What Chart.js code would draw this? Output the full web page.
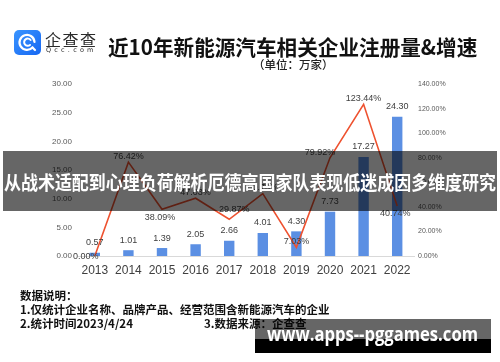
<!DOCTYPE html>
<html>
<head>
<meta charset="utf-8">
<script src="https://cdn.jsdelivr.net/npm/chart.js@4.4.0/dist/chart.umd.min.js"></script>
<style>
  body { margin: 0; background: #fff; }
  #page { position: relative; width: 500px; height: 362px; overflow: hidden; font-family: "Noto Sans CJK SC", sans-serif; }
  #chartBox { position: absolute; left: 0; top: 0; width: 500px; height: 362px; }
  .abs { position: absolute; white-space: nowrap; }
  #brand { left: 45px; top: 29px; font-size: 16px; color: #2b2b2b; letter-spacing: 1.5px; line-height: 20px; }
  #brandSub { left: 46px; top: 46px; font-family: "DejaVu Sans", sans-serif; font-size: 6.5px; color: #333; letter-spacing: 3.2px; line-height: 8px; }
  #title { left: 108px; top: 33px; font-size: 21px; font-weight: bold; color: #111; line-height: 26px; transform-origin: 0 0; }
  #unit { left: 253px; top: 57px; font-size: 11.5px; font-weight: 500; color: #222; line-height: 14px; }
  .note { left: 20px; font-size: 11.5px; font-weight: bold; color: #111; line-height: 14px; }
  #banner { left: 3px; top: 151px; width: 494px; height: 60px; background: rgba(0, 0, 0, 0.6); }
  #bannerText { left: 4px; top: 170px; font-size: 19px; font-weight: bold; color: #fff; line-height: 24px; transform-origin: 0 0; }
  #mark { left: 255px; top: 319px; width: 236px; height: 34px; background: linear-gradient(rgba(0,0,0,0.6) 0, rgba(0,0,0,0.6) 20px, #000 20px, #000 100%); }
  #markText { left: 267px; top: 321px; font-family: "Open Sans", sans-serif; font-size: 20px; font-weight: bold; color: #fff; line-height: 26px; transform-origin: 0 0; }
</style>
</head>
<body>
<div id="page">
  <div id="chartBox"><canvas id="regChart"></canvas></div>

  <svg class="abs" style="left:14px;top:30px" width="27" height="25" viewBox="0 0 27 25">
    <defs>
      <linearGradient id="lg" x1="0" y1="0" x2="1" y2="1">
        <stop offset="0" stop-color="#3a95ff"/>
        <stop offset="1" stop-color="#1667f2"/>
      </linearGradient>
    </defs>
    <rect x="0" y="0" width="27" height="25" rx="5" fill="url(#lg)"/>
    <path d="M18.5 17.5 A7.5 7.5 0 1 1 20.5 12" fill="none" stroke="#fff" stroke-width="2.2" stroke-linecap="round"/>
    <path d="M16 15 A3.6 3.6 0 1 1 16.6 10" fill="none" stroke="#fff" stroke-width="2" stroke-linecap="round"/>
    <path d="M18.5 17.5 L21 20" stroke="#fff" stroke-width="2.2" stroke-linecap="round"/>
  </svg>
  <div id="brand" class="abs">企查查</div>
  <div id="brandSub" class="abs">Qcc.com</div>
  <div id="title" class="abs" data-fit="369">近10年新能源汽车相关企业注册量&amp;增速</div>
  <div id="unit" class="abs">（单位：万家）</div>

  <div class="abs note" style="top:288px">数据说明：</div>
  <div class="abs note" style="top:302px">1.仅统计企业名称、品牌产品、经营范围含新能源汽车的企业</div>
  <div class="abs note" style="top:316px">2.统计时间2023/4/24</div>
  <div class="abs note" style="top:316px;left:204px">3.数据来源：企查查</div>

  <div id="banner" class="abs"></div>
  <div id="bannerText" class="abs" data-fit="492">从战术适配到心理负荷解析厄德高国家队表现低迷成因多维度研究</div>
  <div id="mark" class="abs"></div>
  <div id="markText" class="abs" data-fit="211">www.apps--pggames.com</div>
</div>

<script>
// ===================================
// DATA
// ===================================

const years = ['2013', '2014', '2015', '2016', '2017', '2018', '2019', '2020', '2021', '2022'];
const regCounts = [0.57, 1.01, 1.39, 2.05, 2.66, 4.01, 4.30, 7.73, 17.27, 24.30];   // 万家
const growthRates = [0.00, 76.42, 38.09, 47.03, 29.87, 50.75, 7.03, 79.92, 123.44, 40.74]; // %

const countAxis = { min: 0, max: 30, step: 5 };
const rateAxis = { min: 0, max: 140, step: 20 };

// where each growth label sits relative to its point
const growthLabelPos = ['left', 'above', 'below', 'above', 'aboveRight', 'above', 'above', 'aboveLeft', 'above', 'below'];

// ===================================
// LABEL PLUGIN
// ===================================

const labelOffsets = {
    left: [-9, 1],
    above: [0, -6],
    below: [-2, 8],
    aboveRight: [5, -10],
    aboveLeft: [-10, -5]
};

const valueLabels = {
    id: 'valueLabels',
    afterDatasetsDraw(chart) {
        const ctx = chart.ctx;
        ctx.save();
        ctx.font = '9px "Liberation Sans", sans-serif';
        ctx.fillStyle = '#404040';
        ctx.textAlign = 'center';
        ctx.textBaseline = 'middle';

        chart.getDatasetMeta(0).data.forEach((bar, i) => {
            ctx.fillText(regCounts[i].toFixed(2), bar.x, bar.y - 10);
        });

        chart.getDatasetMeta(1).data.forEach((pt, i) => {
            const off = labelOffsets[growthLabelPos[i]];
            ctx.fillText(growthRates[i].toFixed(2) + '%', pt.x + off[0], pt.y + off[1]);
        });
        ctx.restore();
    }
};

// ===================================
// CHART
// ===================================

const tickFont = { family: '"Liberation Sans", sans-serif', size: 8 };

new Chart(document.getElementById('regChart'), {
    type: 'bar',
    data: {
        labels: years,
        datasets: [
            {
                label: '注册量',
                data: regCounts,
                yAxisID: 'y',
                backgroundColor: '#5b8fe3',
                categoryPercentage: 1,
                barPercentage: 0.31,
                order: 1
            },
            {
                type: 'line',
                label: '增速',
                data: growthRates,
                yAxisID: 'y1',
                borderColor: '#ee5230',
                borderWidth: 1.6,
                pointRadius: 0,
                tension: 0,
                fill: false,
                order: 0
            }
        ]
    },
    options: {
        responsive: true,
        maintainAspectRatio: false,
        animation: false,
        layout: { padding: { top: 84, left: 0, right: 0, bottom: 0 } },
        plugins: {
            legend: { display: false },
            tooltip: { enabled: false }
        },
        scales: {
            x: {
                grid: { display: false, drawTicks: false },
                border: { display: true, color: '#d9d9d9', width: 1 },
                ticks: {
                    font: { family: '"Liberation Sans", sans-serif', size: 12 },
                    color: '#404040',
                    padding: 7,
                    maxRotation: 0
                },
                afterFit: s => { s.height = 106; }
            },
            y: {
                position: 'left',
                min: countAxis.min,
                max: countAxis.max,
                grid: { display: false, drawTicks: false },
                border: { display: false },
                ticks: {
                    stepSize: countAxis.step,
                    font: tickFont,
                    color: '#595959',
                    padding: 6,
                    callback: v => v.toFixed(2)
                },
                afterFit: s => { s.width = 78; }
            },
            y1: {
                position: 'right',
                min: rateAxis.min,
                max: rateAxis.max,
                grid: { display: false, drawTicks: false },
                border: { display: false },
                ticks: {
                    stepSize: rateAxis.step,
                    font: { family: '"Liberation Sans", sans-serif', size: 7 },
                    color: '#595959',
                    padding: 4,
                    callback: v => v.toFixed(2) + '%'
                },
                afterFit: s => { s.width = 86; }
            }
        }
    },
    plugins: [valueLabels]
});

// squeeze overlay texts to their measured widths
document.querySelectorAll('[data-fit]').forEach(el => {
    const w = +el.dataset.fit;
    el.style.transform = `scaleX(${w / el.offsetWidth})`;
});
</script>
</body>
</html>
